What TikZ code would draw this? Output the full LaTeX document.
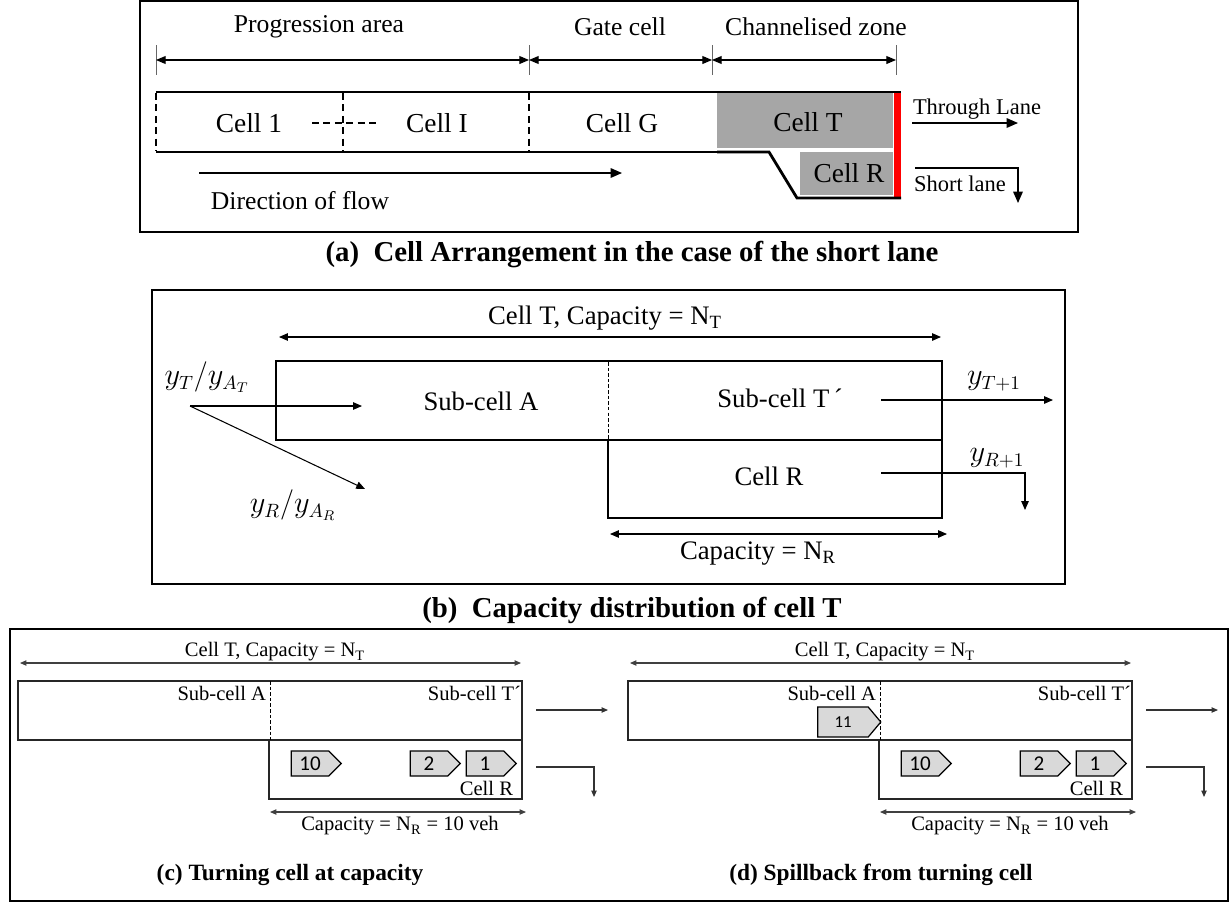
\documentclass[tikz,border=0pt]{standalone}
\usepackage{fontspec}
\setmainfont{Liberation Serif}
\newfontfamily\vehfont{Carlito}
\usetikzlibrary{arrows.meta,shapes.symbols}
\newcommand\turnpanel{%
  \node[ctext] (capT) at (275,652) {Cell T, Capacity = N\textsubscript{T}};
  \coordinate (dl) at (20,663); \coordinate (dr) at (521,663);
  \draw[cdim] (dl) -- (dr);
  \draw[cline] (18,681) rectangle (522,740);
  \draw[cline] (269,740) rectangle (522,799);
  \draw[subdash] (270,681) -- (270,740);
  \node[ctext,anchor=east] (subA) at (266,693) {Sub-cell A};
  \node[ctext,anchor=east] (subT) at (521,693) {Sub-cell T´};
  \coordinate (o1) at (536,710); \coordinate (o2) at (608,710);
  \draw[carr] (o1) -- (o2);
  \coordinate (t1) at (536,767); \coordinate (t2) at (594,767); \coordinate (t3) at (594,797);
  \draw[carr] (t1) -- (t2) -- (t3);
  \node[veh] (v10) at (310,763.5) {10};
  \node[veh] (v2) at (429,763.5) {2};
  \node[veh] (v1) at (485,763.5) {1};
  \node[ctext,anchor=east] (cellR) at (513,788) {Cell R};
  \coordinate (nl) at (270,812); \coordinate (nr) at (526,812);
  \draw[cdim] (nl) -- (nr);
  \node[ctext] (capR) at (400,826) {Capacity = N\textsubscript{R} = 10 veh};
}
\begin{document}
\begin{tikzpicture}[x=0.02cm,y=-0.02cm,
  every node/.style={inner sep=0pt,outer sep=0pt},
  frame/.style={draw=black,line width=1.3pt},
  lab/.style={font=\fontsize{14.6}{17}\selectfont},
  cellname/.style={font=\fontsize{15.6}{18}\selectfont},
  smalllab/.style={font=\fontsize{12.8}{15}\selectfont},
  btext/.style={font=\fontsize{15.2}{18}\selectfont},
  mathlab/.style={font=\fontsize{16}{19}\selectfont},
  ctext/.style={font=\fontsize{11.7}{14}\selectfont},
  capt/.style={font=\bfseries\fontsize{16.4}{19}\selectfont},
  ccapt/.style={font=\bfseries\fontsize{13.3}{16}\selectfont},
  adim/.style={line width=0.6pt,{Triangle[length=5.5pt,width=4.5pt]}-{Triangle[length=5.5pt,width=4.5pt]}},
  aarr/.style={line width=0.7pt,-{Triangle[length=6.5pt,width=5.5pt]}},
  bdim/.style={line width=0.6pt,{Triangle[length=5pt,width=4.2pt]}-{Triangle[length=5pt,width=4.2pt]}},
  barr/.style={line width=0.6pt,-{Triangle[length=5pt,width=4.2pt]}},
  cdim/.style={draw=black!75,line width=0.6pt,{Triangle[length=3.6pt,width=3pt]}-{Triangle[length=3.6pt,width=3pt]}},
  carr/.style={draw=black!80,line width=0.6pt,-{Triangle[length=3.6pt,width=3pt]}},
  cline/.style={draw=black!85,line width=0.7pt},
  subdash/.style={draw=black,line width=0.4pt,dash pattern=on 2pt off 1.2pt},
  veh/.style={signal,signal to=east,signal pointer angle=90,draw=black,line width=0.7pt,
    fill=black!15,minimum width=1cm,minimum height=0.5cm,font=\vehfont\fontsize{12}{14}\selectfont},
]
\useasboundingbox (0,0) rectangle (1231,903);

% ---------------- Panel (a) ----------------
\draw[frame] (140,1) rectangle (1078,232);
\node[lab] (prog) at (319,27) {Progression area};
\node[lab] (gate) at (620,27) {Gate cell};
\node[lab] (chan) at (816,27) {Channelised zone};
\foreach \xx in {156,529,712,896} \draw[black!60,line width=0.5pt] (\xx,45) -- (\xx,75);
\coordinate (d1) at (156,60); \coordinate (d2) at (529,60);
\coordinate (d3) at (712,60); \coordinate (d4) at (896,60);
\draw[adim] (d1) -- (d2);
\draw[adim] (d2) -- (d3);
\draw[adim] (d3) -- (d4);
% cells
\fill[black!35] (717,93) rectangle (893,148);
\fill[black!35] (800,152) rectangle (893,195);
\fill[red] (894,92) rectangle (901,197);
\draw[line width=1.6pt] (156,92) -- (901,92);
\draw[line width=0.6pt] (156,152) -- (717,152);
\draw[line width=1.6pt,dash pattern=on 4.5pt off 2pt] (156,152) -- (717,152);
\draw[line width=1.6pt,line join=miter] (717,152) -- (769,152) -- (797,198) -- (901,198);
\foreach \xx in {156,343,529} \draw[line width=0.7pt,dash pattern=on 4pt off 2.5pt] (\xx,93) -- (\xx,151);
\draw[line width=0.7pt,dash pattern=on 4pt off 2.5pt] (312,123) -- (376,123);
\node[cellname] (c1) at (249,123) {Cell 1};
\node[cellname] (cI) at (437,123) {Cell I};
\node[cellname] (cG) at (622,123) {Cell G};
\node[cellname] (cT) at (808,122) {Cell T};
\node[cellname] (cR) at (849,173) {Cell R};
\node[smalllab] (thr) at (977,109) {Through Lane};
\coordinate (th1) at (912,123); \coordinate (th2) at (1018,123);
\draw[aarr] (th1) -- (th2);
\node[smalllab] (sho) at (960,184) {Short lane};
\coordinate (s1) at (915,168); \coordinate (s2) at (1018,168); \coordinate (s3) at (1018,203);
\draw[aarr] (s1) -- (s2) -- (s3);
\coordinate (f1) at (199,173); \coordinate (f2) at (622,173);
\draw[aarr] (f1) -- (f2);
\node[lab] (dir) at (300,201) {Direction of flow};
\node[capt] (capa) at (632,255) {(a)\ \ Cell Arrangement in the case of the short lane};

% ---------------- Panel (b) ----------------
\draw[frame] (152,290) rectangle (1065,584);
\node[btext] (bT) at (605,318) {Cell T, Capacity = N\textsubscript{T}};
\coordinate (b1) at (279,337); \coordinate (b2) at (941,337);
\draw[bdim] (b1) -- (b2);
\draw[line width=1.1pt] (276,361) rectangle (942,440);
\draw[line width=1.1pt] (608,440) rectangle (942,518);
\draw[subdash] (608,362) -- (608,439);
\node[btext] (bA) at (481,401) {Sub-cell A};
\node[btext] (bTp) at (780,398) {Sub-cell T\,´};
\node[btext] (bR) at (769,476) {Cell R};
\node[mathlab] (yT) at (207,377) {$y_T/y_{A_T}$};
\node[mathlab] (yR) at (293,505) {$y_R/y_{A_R}$};
\coordinate (src) at (190,406); \coordinate (sa) at (362,406); \coordinate (sr) at (365,489);
\draw[barr] (src) -- (sa);
\draw[barr] (src) -- (sr);
\node[mathlab] (yT1) at (994,381) {$y_{T+1}$};
\node[mathlab] (yR1) at (997,458) {$y_{R+1}$};
\coordinate (bo1) at (881,400); \coordinate (bo2) at (1053,400);
\draw[barr] (bo1) -- (bo2);
\coordinate (bt1) at (881,473); \coordinate (bt2) at (1025,473); \coordinate (bt3) at (1025,510);
\draw[barr] (bt1) -- (bt2) -- (bt3);
\coordinate (bn1) at (610,534); \coordinate (bn2) at (947,534);
\draw[bdim] (bn1) -- (bn2);
\node[btext] (bNR) at (758,554) {Capacity = N\textsubscript{R}};
\node[capt] (capb) at (632,610) {(b)\ \ Capacity distribution of cell T};

% ---------------- Panels (c) and (d) ----------------
\draw[frame] (10,629) rectangle (1228,901);
\begin{scope}[name prefix=c-]
  \turnpanel
  \node[ccapt] (capc) at (290,875) {(c) Turning cell at capacity};
\end{scope}
\begin{scope}[shift={(610,0)},name prefix=d-]
  \turnpanel
  \node[veh,minimum width=1.26cm,minimum height=0.6cm,signal pointer angle=100,
        font=\vehfont\fontsize{9.5}{11}\selectfont] (v11) at (233,722) {11};
  \node[ccapt] (capd) at (271,875) {(d) Spillback from turning cell};
\end{scope}
\end{tikzpicture}
\end{document}
